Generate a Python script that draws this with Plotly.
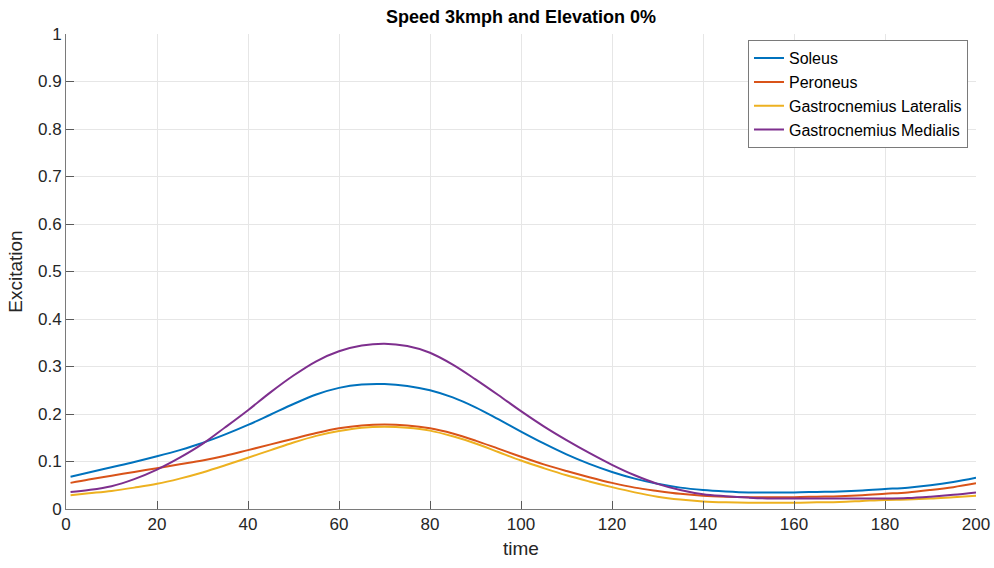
import plotly.graph_objects as go

time = [1, 5, 10, 15, 20, 25, 30, 35, 40, 45, 50, 55, 60, 65, 70, 75, 80, 85, 90, 95, 100,
        105, 110, 115, 120, 125, 130, 135, 140, 145, 150, 155, 160, 165, 170, 175, 180, 185, 190, 195, 200]
soleus = [0.068, 0.077, 0.088, 0.099, 0.111, 0.124, 0.139, 0.157, 0.177, 0.199, 0.221, 0.241, 0.255, 0.262, 0.263,
          0.259, 0.250, 0.235, 0.214, 0.189, 0.163, 0.138, 0.115, 0.095, 0.078, 0.064, 0.053, 0.045, 0.040, 0.037,
          0.035, 0.035, 0.035, 0.036, 0.037, 0.039, 0.042, 0.045, 0.050, 0.057, 0.066]
peroneus = [0.055, 0.062, 0.070, 0.078, 0.086, 0.094, 0.102, 0.112, 0.124, 0.136, 0.148, 0.160, 0.170, 0.176, 0.178,
            0.176, 0.170, 0.159, 0.144, 0.127, 0.110, 0.094, 0.080, 0.067, 0.055, 0.045, 0.038, 0.032, 0.028, 0.026,
            0.025, 0.025, 0.025, 0.026, 0.027, 0.029, 0.032, 0.035, 0.040, 0.046, 0.054]
gast_lat = [0.029, 0.033, 0.038, 0.045, 0.053, 0.064, 0.077, 0.092, 0.108, 0.124, 0.140, 0.154, 0.164, 0.171, 0.173,
            0.171, 0.165, 0.153, 0.138, 0.120, 0.102, 0.086, 0.071, 0.058, 0.046, 0.035, 0.026, 0.020, 0.016, 0.014,
            0.013, 0.013, 0.013, 0.014, 0.015, 0.017, 0.019, 0.020, 0.022, 0.025, 0.028]
gast_med = [0.036, 0.040, 0.048, 0.063, 0.083, 0.108, 0.137, 0.172, 0.208, 0.246, 0.281, 0.311, 0.332, 0.344, 0.348,
            0.343, 0.329, 0.304, 0.273, 0.240, 0.206, 0.174, 0.145, 0.118, 0.093, 0.071, 0.053, 0.040, 0.031, 0.027,
            0.024, 0.022, 0.022, 0.022, 0.022, 0.022, 0.022, 0.023, 0.026, 0.030, 0.035]

names = ["Soleus", "Peroneus", "Gastrocnemius Lateralis", "Gastrocnemius Medialis"]
series = [soleus, peroneus, gast_lat, gast_med]
colors = ["#0072BD", "#D95319", "#EDB120", "#7E2F8E"]

fig = go.Figure()
for n, s, c in zip(names, series, colors):
    fig.add_trace(go.Scatter(x=time, y=s, name=n, mode="lines",
                             line=dict(color=c, width=2, shape="spline", smoothing=1.0)))

font_family = "Liberation Sans, Arial, Helvetica, sans-serif"
axis_common = dict(
    showgrid=True, gridcolor="#e6e6e6", gridwidth=1,
    showline=True, linecolor="#7a7a7a", linewidth=1,
    ticks="inside", ticklen=8, tickcolor="#5a5a5a", tickwidth=1,
    tickfont=dict(family=font_family, size=17, color="#262626"),
    zeroline=False, mirror=False, automargin=False,
)
fig.update_layout(
    width=994, height=568,
    margin=dict(l=66, r=18, t=34, b=59, autoexpand=False),
    paper_bgcolor="white", plot_bgcolor="white",
    title=dict(text="<b>Speed 3kmph and Elevation 0%</b>", x=(66 + 455) / 994, xanchor="center",
               y=1 - 17 / 568, yanchor="middle",
               font=dict(family=font_family, size=18, color="black")),
    xaxis=dict(range=[0, 200], dtick=20, tick0=0,
               title=dict(text="time", font=dict(family=font_family, size=19, color="#262626"), standoff=8),
               **axis_common),
    yaxis=dict(range=[0, 1], dtick=0.1, tick0=0,
               title=dict(text="Excitation", font=dict(family=font_family, size=19, color="#262626"), standoff=10),
               **axis_common),
    legend=dict(x=0.9912, y=0.987, xanchor="right", yanchor="top",
                bgcolor="white", bordercolor="#7a7a7a", borderwidth=1,
                font=dict(family=font_family, size=16, color="black"),
                tracegroupgap=0, itemwidth=30),
    showlegend=True,
)

fig.write_html("out.html")
